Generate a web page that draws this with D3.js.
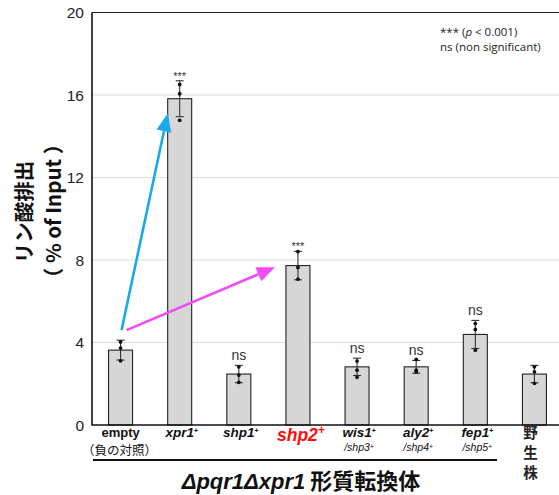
<!DOCTYPE html>
<html><head><meta charset="utf-8">
<script src="https://cdn.jsdelivr.net/npm/d3@7"></script>
<style>body{margin:0;background:#fff}svg{display:block}</style>
</head><body>
<script>
// ---- data ----
const categories = ["empty","xpr1","shp1","shp2","wis1","aly2","fep1","wild"];
const means = [3.63, 15.82, 2.47, 7.73, 2.82, 2.82, 4.39, 2.47];
const sds   = [0.48, 0.87, 0.42, 0.69, 0.42, 0.31, 0.68, 0.42];
const replicates = [
  [4.03, 3.73, 3.11],
  [16.51, 16.06, 14.77],
  [2.82, 2.42, 2.07],
  [8.41, 7.64, 7.07],
  [3.10, 2.66, 2.31],
  [3.18, 2.66, 2.58],
  [4.92, 4.63, 3.63],
  [2.82, 2.58, 2.02]
];
const signif = ["", "***", "ns", "***", "ns", "ns", "ns", ""];
const yTicks = [0, 4, 8, 12, 16, 20];
const mainLabels = ["empty","xpr1","shp1","shp2","wis1","aly2","fep1",""];
const subLabels  = ["（負の対照）","","","","/shp3","/shp4","/shp5",""];
const wildLabel = ["野","生","株"];
const legendLines = ["*** (p < 0.001)", "ns (non significant)"];
const axisTitle = ["リン酸排出", "（ % of Input ）"];
const groupTitle = ["Δpqr1Δxpr1", " 形質転換体"];
const arrows = [
  {from:"empty", fromVal:4.6, fromDx:1, to:"xpr1", toVal:15.1, toDx:-12, color:"#1aa9ec"},
  {from:"empty", fromVal:4.6, fromDx:6, to:"shp2", toVal:7.65, toDx:-23, color:"#f44cf4"}
];

// ---- layout ----
const W = 559, H = 495;
const svg = d3.select("body").append("svg").attr("width", W).attr("height", H);
const x = d3.scaleBand().domain(categories).range([91, 564]).padding(0);
const y = d3.scaleLinear().domain([0, 20]).range([425, 12.5]);
const bw = 24;
const cx = c => x(c) + x.bandwidth() / 2;
const sans = "'Liberation Sans', Arial, Helvetica, sans-serif";
const cjk = "'Noto Sans CJK JP', sans-serif";

// gridlines
svg.append("g").selectAll("line").data(yTicks.filter(t => t > 0 && t < 20)).join("line")
  .attr("x1", 92).attr("x2", W).attr("y1", d => y(d)).attr("y2", d => y(d))
  .attr("stroke", "#dcdcdc").attr("stroke-width", 1.2);

// top border
svg.append("line").attr("x1", 92).attr("x2", W).attr("y1", y(20)).attr("y2", y(20))
  .attr("stroke", "#222").attr("stroke-width", 1.2);

// y tick labels
svg.append("g").selectAll("text").data(yTicks).join("text")
  .attr("x", 84).attr("y", d => y(d) + 5.5).attr("text-anchor", "end")
  .attr("font-family", sans).attr("font-size", 15.5).attr("fill", "#222")
  .text(d => d);

// bars
svg.append("g").selectAll("rect").data(categories).join("rect")
  .attr("x", d => cx(d) - bw / 2).attr("width", bw)
  .attr("y", (d, i) => y(means[i])).attr("height", (d, i) => y(0) - y(means[i]))
  .attr("fill", "#d7d7d7").attr("stroke", "#222").attr("stroke-width", 1.1);

// error bars
const eb = svg.append("g").attr("stroke", "#333").attr("stroke-width", 1.1);
categories.forEach((c, i) => {
  const lo = y(means[i] - sds[i]), hi = y(means[i] + sds[i]), xc = cx(c);
  eb.append("line").attr("x1", xc).attr("x2", xc).attr("y1", lo).attr("y2", hi);
  eb.append("line").attr("x1", xc - 4).attr("x2", xc + 4).attr("y1", lo).attr("y2", lo);
  eb.append("line").attr("x1", xc - 4).attr("x2", xc + 4).attr("y1", hi).attr("y2", hi);
});
// replicate points
categories.forEach((c, i) => {
  svg.append("g").selectAll("circle").data(replicates[i]).join("circle")
    .attr("cx", cx(c)).attr("cy", d => y(d)).attr("r", 1.9).attr("fill", "#111");
});

// significance labels
svg.append("g").selectAll("text").data(categories).join("text")
  .attr("x", d => cx(d))
  .attr("y", (d, i) => y(means[i] + sds[i]) - (signif[i] === "***" ? 1 : 5))
  .attr("text-anchor", "middle").attr("font-family", sans)
  .attr("font-size", (d, i) => signif[i] === "***" ? 11 : 14)
  .attr("fill", "#333")
  .text((d, i) => signif[i]);

// axes lines
svg.append("line").attr("x1", 92).attr("x2", 92).attr("y1", y(20)).attr("y2", y(0) + 0.5)
  .attr("stroke", "#111").attr("stroke-width", 1.6);
svg.append("line").attr("x1", 92).attr("x2", W).attr("y1", y(0)).attr("y2", y(0))
  .attr("stroke", "#111").attr("stroke-width", 1.6);

// arrows
arrows.forEach(a => {
  const x1 = cx(a.from) + a.fromDx, y1 = y(a.fromVal);
  const x2 = cx(a.to) + a.toDx, y2 = y(a.toVal);
  const ang = Math.atan2(y2 - y1, x2 - x1);
  const L = 18, hw = 7.5;
  const bx = x2 - L * Math.cos(ang), by = y2 - L * Math.sin(ang);
  svg.append("line").attr("x1", x1).attr("y1", y1).attr("x2", bx).attr("y2", by)
    .attr("stroke", a.color).attr("stroke-width", 2.6);
  const px = -Math.sin(ang), py = Math.cos(ang);
  svg.append("path")
    .attr("d", `M${x2},${y2}L${bx + px * hw},${by + py * hw}L${bx - px * hw},${by - py * hw}Z`)
    .attr("fill", a.color);
});

// x labels
const lab = svg.append("g").attr("font-family", sans).attr("text-anchor", "middle");
categories.forEach((c, i) => {
  const xc = cx(c);
  if (c === "empty") {
    lab.append("text").attr("x", xc).attr("y", 437).attr("font-size", 13).attr("font-weight", "bold")
      .attr("fill", "#111").text(mainLabels[i]);
  } else if (c === "shp2") {
    const t = lab.append("text").attr("x", xc + 3).attr("y", 441).attr("font-size", 17.5)
      .attr("font-weight", "bold").attr("font-style", "italic").attr("fill", "#ff0d0d");
    t.append("tspan").text(mainLabels[i]);
    t.append("tspan").attr("dy", -7).attr("font-size", 12).text("+");
  } else if (c !== "wild") {
    const t = lab.append("text").attr("x", xc + 2).attr("y", 437).attr("font-size", 13.5)
      .attr("font-weight", "bold").attr("font-style", "italic").attr("fill", "#111");
    t.append("tspan").text(mainLabels[i]);
    t.append("tspan").attr("dy", -4).attr("font-size", 7).attr("font-style", "normal").text("+");
  }
  if (subLabels[i]) {
    if (c === "empty") {
      lab.append("text").attr("x", xc - 1).attr("y", 455).attr("font-size", 12.5)
        .attr("font-family", cjk).attr("fill", "#111").text(subLabels[i]);
    } else {
      const t = lab.append("text").attr("x", xc + 2).attr("y", 450.5).attr("font-size", 10.5)
        .attr("font-style", "italic").attr("fill", "#111");
      t.append("tspan").text(subLabels[i]);
      t.append("tspan").attr("dy", -2).attr("font-size", 7).attr("font-style", "normal").text("+");
    }
  }
});
// wild type vertical label
svg.append("g").selectAll("text").data(wildLabel).join("text")
  .attr("x", cx("wild") - 4).attr("y", (d, i) => 438 + i * 20)
  .attr("text-anchor", "middle").attr("font-family", cjk).attr("font-size", 14.5)
  .attr("font-weight", "bold").attr("fill", "#222").text(d => d);

// group underline
svg.append("line").attr("x1", 93).attr("x2", 497).attr("y1", 460).attr("y2", 460)
  .attr("stroke", "#111").attr("stroke-width", 2.2);
const gt = svg.append("text").attr("x", 301).attr("y", 489).attr("text-anchor", "middle")
  .attr("font-size", 22).attr("font-weight", "bold").attr("fill", "#111");
gt.append("tspan").attr("font-family", sans).attr("font-style", "italic").text(groupTitle[0]);
gt.append("tspan").attr("font-family", cjk).text(groupTitle[1]);

// y axis title
const yt = svg.append("g").attr("font-family", cjk).attr("font-weight", "bold")
  .attr("font-size", 20.5).attr("fill", "#111").attr("text-anchor", "middle");
yt.append("text").attr("transform", "translate(23,212) rotate(-90)")
  .attr("dominant-baseline", "central").text(axisTitle[0]);
yt.append("text").attr("transform", "translate(52,211) rotate(-90)")
  .attr("dominant-baseline", "central").text(axisTitle[1]);

// legend
const lg = svg.append("g").attr("font-family", "'Open Sans', sans-serif").attr("font-size", 11.5)
  .attr("fill", "#222");
const l1 = lg.append("text").attr("x", 440).attr("y", 36);
l1.append("tspan").text("*** (");
l1.append("tspan").attr("font-style", "italic").text("p");
l1.append("tspan").text(" < 0.001)");
lg.append("text").attr("x", 440).attr("y", 51).text(legendLines[1]);
</script>
</body></html>
